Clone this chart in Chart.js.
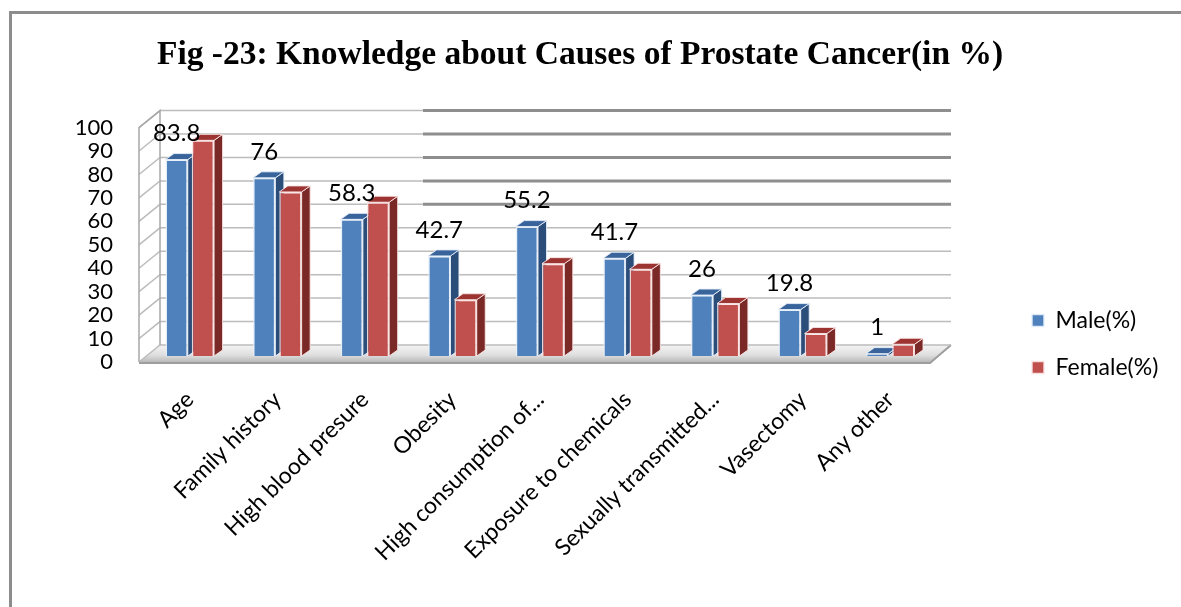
<!DOCTYPE html>
<html>
<head>
<meta charset="utf-8">
<title>Knowledge about Causes of Prostate Cancer</title>
<script src="https://cdn.jsdelivr.net/npm/chart.js@4.4.1/dist/chart.umd.min.js"></script>
<style>
  html, body { margin: 0; padding: 0; background: #fff; }
  #wrap { position: relative; width: 1181px; height: 607px; overflow: hidden; }
  #frame {
    position: absolute; left: 9px; top: 11px; right: -20px; bottom: -20px;
    border-left: 3px solid #8c8c8c; border-top: 3px solid #8c8c8c;
    pointer-events: none;
  }
  canvas { position: absolute; left: 0; top: 0; }
</style>
</head>
<body>
<div id="wrap">
  <canvas id="causesChart" width="1181" height="607"></canvas>
  <div id="frame"></div>
</div>
<script>
// Survey answers, % of respondents
const causes = [
  'Age', 'Family history', 'High blood presure', 'Obesity',
  'High consumption of...', 'Exposure to chemicals',
  'Sexually transmitted...', 'Vasectomy', 'Any other'
];
const maleValues = [83.8, 76, 58.3, 42.7, 55.2, 41.7, 26, 19.8, 1];
const femaleValues = [92, 70, 65.6, 24, 39.4, 37, 22.4, 9.6, 5];
const yTickValues = [0, 10, 20, 30, 40, 50, 60, 70, 80, 90, 100];

const LABEL_FONT = 'Lato, "Open Sans", sans-serif';

// fake 3D look: wall depth, bar depth
const WALL_DX = 21;
const FRONT_DY = 6;
const BACK_DY = 11;
const BAR_DX = 8.5;
const BAR_DY = 6;
const HEAVY_GRID_FROM = 423;

const faceColors = [
  { top: '#38639b', side: '#2b4d79', edge: 'rgba(230,238,250,0.9)' },
  { top: '#9c3532', side: '#7b2927', edge: 'rgba(250,228,228,0.9)' }
];

const scenePlugin = {
    id: 'scene3d',
    beforeDatasetsDraw(chart) {
        const { ctx, chartArea, scales } = chart;
        const y = scales.y;
        const fx0 = chartArea.left - 7;
        const fx1 = chartArea.right - 4;
        const bx0 = fx0 + WALL_DX;
        const bx1 = fx1 + WALL_DX;
        const front = v => y.getPixelForValue(v) + FRONT_DY;
        const back = v => y.getPixelForValue(v) - BACK_DY;

        ctx.save();

        // floor
        const grad = ctx.createLinearGradient(0, back(0), 0, front(0));
        grad.addColorStop(0, '#f4f4f4');
        grad.addColorStop(0.6, '#dedede');
        grad.addColorStop(1, '#b9b9b9');
        ctx.beginPath();
        ctx.moveTo(fx0, front(0));
        ctx.lineTo(fx1, front(0));
        ctx.lineTo(bx1, back(0));
        ctx.lineTo(bx0, back(0));
        ctx.closePath();
        ctx.fillStyle = grad;
        ctx.fill();
        ctx.strokeStyle = '#9d9d9d';
        ctx.lineWidth = 2;
        ctx.beginPath();
        ctx.moveTo(fx0, front(0) + 1);
        ctx.lineTo(fx1, front(0) + 1);
        ctx.lineTo(bx1, back(0));
        ctx.stroke();

        // back wall grid + side wall
        yTickValues.forEach(v => {
            const yb = back(v);
            ctx.strokeStyle = '#bcbcbc';
            ctx.lineWidth = 1.5;
            ctx.beginPath();
            ctx.moveTo(fx0, front(v));
            ctx.lineTo(bx0, yb);
            ctx.lineTo(bx1, yb);
            ctx.stroke();
            if (v >= 60) {
                ctx.strokeStyle = '#8e8e8e';
                ctx.lineWidth = 3;
                ctx.beginPath();
                ctx.moveTo(HEAVY_GRID_FROM, yb);
                ctx.lineTo(bx1, yb);
                ctx.stroke();
            }
        });
        ctx.strokeStyle = '#a8a8a8';
        ctx.lineWidth = 1.5;
        ctx.beginPath();
        ctx.moveTo(fx0, front(0));
        ctx.lineTo(fx0, front(100));
        ctx.lineTo(bx0, back(100));
        ctx.lineTo(bx0, back(0));
        ctx.stroke();

        // top and side faces of every bar, fronts come from Chart.js
        chart.data.datasets.forEach((ds, di) => {
            const meta = chart.getDatasetMeta(di);
            const c = faceColors[di];
            meta.data.forEach(bar => {
                const l = bar.x - bar.width / 2;
                const r = bar.x + bar.width / 2;
                ctx.lineWidth = 1;
                ctx.strokeStyle = c.edge;
                ctx.fillStyle = c.side;
                ctx.beginPath();
                ctx.moveTo(r, bar.y);
                ctx.lineTo(r + BAR_DX, bar.y - BAR_DY);
                ctx.lineTo(r + BAR_DX, bar.base - BAR_DY);
                ctx.lineTo(r, bar.base);
                ctx.closePath();
                ctx.fill();
                ctx.stroke();
                ctx.fillStyle = c.top;
                ctx.beginPath();
                ctx.moveTo(l, bar.y);
                ctx.lineTo(r, bar.y);
                ctx.lineTo(r + BAR_DX, bar.y - BAR_DY);
                ctx.lineTo(l + BAR_DX, bar.y - BAR_DY);
                ctx.closePath();
                ctx.fill();
                ctx.stroke();
            });
        });

        ctx.restore();
    },
    afterDatasetsDraw(chart) {
        // value labels above the male bars
        const { ctx } = chart;
        const meta = chart.getDatasetMeta(0);
        ctx.save();
        ctx.font = '24px ' + LABEL_FONT;
        ctx.fillStyle = '#000';
        ctx.textAlign = 'center';
        ctx.textBaseline = 'middle';
        meta.data.forEach((bar, i) => {
            ctx.fillText(String(maleValues[i]), bar.x, bar.y - 26);
        });
        ctx.restore();
    }
};

const chart = new Chart(document.getElementById('causesChart'), {
    type: 'bar',
    data: {
        labels: causes,
        datasets: [{
            label: 'Male(%)',
            data: maleValues,
            backgroundColor: '#4f81bd',
            borderColor: 'rgba(230,238,250,0.9)',
            borderWidth: 1.5
        }, {
            label: 'Female(%)',
            data: femaleValues,
            backgroundColor: '#c0504d',
            borderColor: 'rgba(250,228,228,0.9)',
            borderWidth: 1.5
        }]
    },
    options: {
        responsive: false,
        animation: false,
        categoryPercentage: 0.6,
        barPercentage: 0.85,
        layout: { padding: { left: 0, right: 21, top: 0, bottom: 0 } },
        plugins: {
            tooltip: { enabled: false },
            title: {
                display: true,
                text: 'Fig -23: Knowledge about Causes of Prostate Cancer(in %)',
                color: '#000',
                font: { family: '"Liberation Serif", "Times New Roman", serif', size: 33.5, weight: 'bold' },
                padding: { top: 35, bottom: 46.4 }
            },
            legend: {
                position: 'right',
                align: 'start',
                maxWidth: 152,
                title: { display: true, text: '', font: { size: 10, lineHeight: 1 }, padding: { top: 275, bottom: 0 } },
                labels: {
                    boxWidth: 12,
                    boxHeight: 12,
                    padding: 24,
                    color: '#000',
                    font: { family: LABEL_FONT, size: 23 }
                }
            }
        },
        scales: {
            x: {
                grid: { display: false, drawTicks: false },
                border: { display: false },
                ticks: {
                    autoSkip: false,
                    minRotation: 45,
                    maxRotation: 45,
                    padding: 30,
                    color: '#000',
                    font: { family: LABEL_FONT, size: 23 }
                },
                afterFit: scale => { scale.height = 251; }
            },
            y: {
                min: 0,
                max: 100,
                grid: { display: false, drawTicks: false },
                border: { display: false },
                ticks: {
                    autoSkip: false,
                    padding: 33,
                    labelOffset: 6,
                    color: '#000',
                    font: { family: LABEL_FONT, size: 22 }
                },
                afterBuildTicks: scale => { scale.ticks = yTickValues.map(v => ({ value: v })); },
                afterFit: scale => { scale.width = 146; }
            },
            // empty axis, keeps the gap between plot and legend
            gap: {
                type: 'linear',
                position: 'right',
                grid: { display: false, drawTicks: false },
                border: { display: false },
                ticks: { display: false },
                afterFit: scale => { scale.width = 74; }
            }
        }
    },
    plugins: [scenePlugin]
});
</script>
</body>
</html>
